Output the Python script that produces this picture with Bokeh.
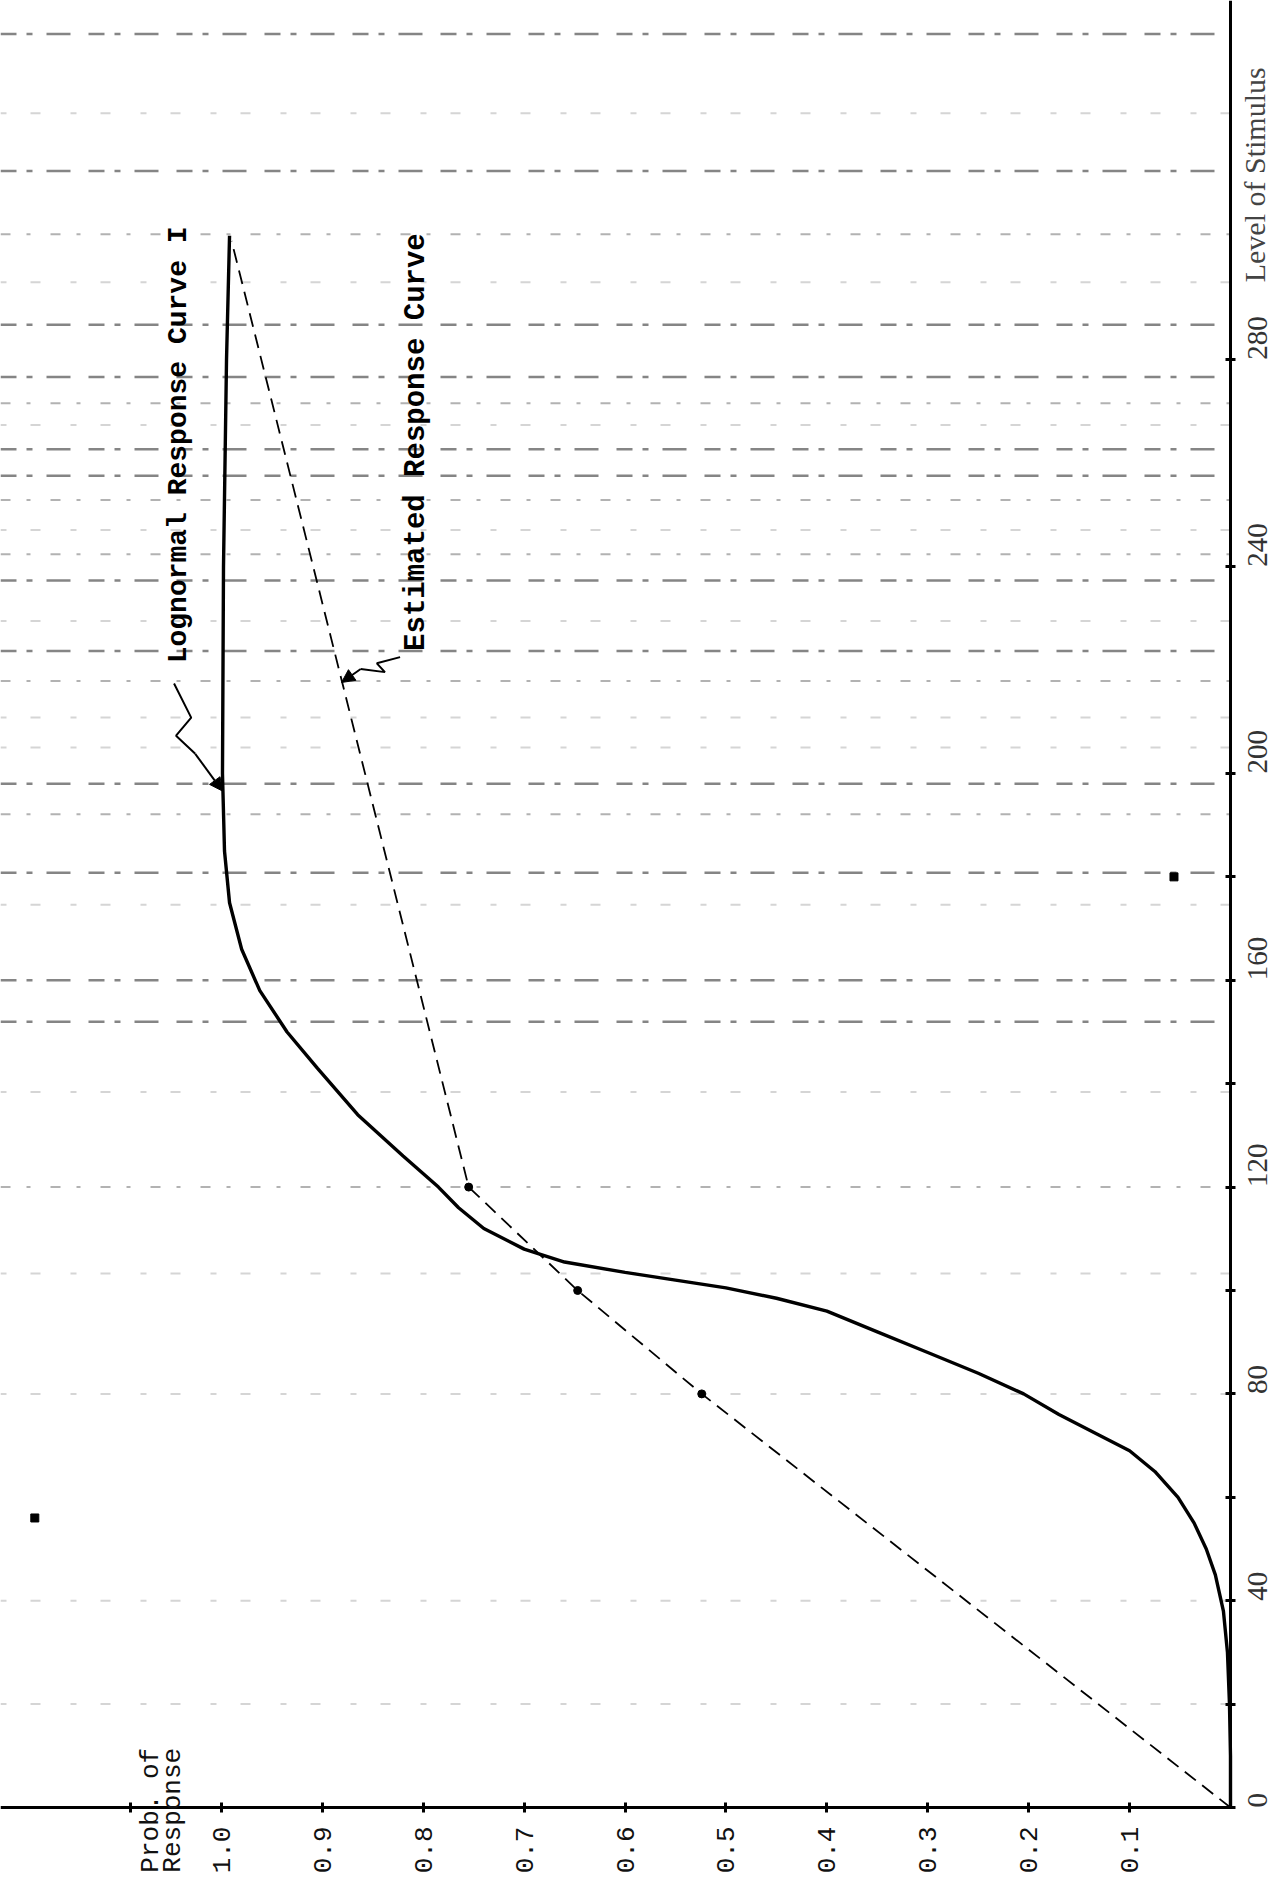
import math
from bokeh.plotting import figure
from bokeh.models import (Range1d, FixedTicker, Label, Arrow, NormalHead,
                          CustomJSTickFormatter)
from bokeh.embed import file_html
from bokeh.resources import INLINE

# ---------------- data ----------------
# Lognormal response curve I : stimulus level vs probability of response
lognormal_stimulus = [0, 10, 20, 30, 38, 45, 50, 55, 60, 65, 69, 72, 76, 80, 84,
                      88, 92, 96, 98.5, 100.5, 102, 103.5, 105.5, 108, 112, 116,
                      120, 126, 134, 143, 150, 158, 166, 175, 185, 200, 240, 280,
                      304]
lognormal_prob = [0.0, 0.0, 0.001, 0.003, 0.007, 0.015, 0.024, 0.036, 0.052,
                  0.075, 0.100, 0.130, 0.170, 0.205, 0.250, 0.300, 0.350, 0.400,
                  0.450, 0.500, 0.550, 0.600, 0.660, 0.700, 0.740, 0.765, 0.785,
                  0.820, 0.865, 0.905, 0.935, 0.962, 0.980, 0.992, 0.997, 0.999,
                  0.998, 0.995, 0.992]

# Estimated response curve (piecewise linear through the observed points)
estimated_stimulus = [0, 80, 100, 120, 303]
estimated_prob = [0.0, 0.524, 0.647, 0.755, 0.990]

# observed points
point_stimulus = [80, 100, 120]
point_prob = [0.524, 0.647, 0.755]

prob_ticks = [0.1, 0.2, 0.3, 0.4, 0.5, 0.6, 0.7, 0.8, 0.9, 1.0]
prob_minor_ticks = [1.09]
stim_ticks = [0, 40, 80, 120, 160, 200, 240, 280]
stim_minor_ticks = [20, 60, 100, 140, 180]

# horizontal scan streaks (stimulus level of each streak)
streak_strong = [343, 316.5, 286.8, 276.7, 262.7, 257.6, 237.3, 223.7, 198,
                 180.8, 160, 152]
streak_medium = [304.3, 271.6, 252.9, 242.4, 217.9, 192.1, 120]
streak_faint = [327.7, 295, 267.4, 247.1, 229.5, 210.8, 205, 174.6, 138.4,
                103.3, 80, 40, 20]

# scan specks (probability, stimulus)
speck_prob = [1.185, 0.056]
speck_stimulus = [56, 180]

# ---------------- figure ----------------
P_LEFT, P_RIGHT = 1.219, -0.0456
S_BOTTOM, S_TOP = -13.73, 349.5
p = figure(frame_width=1276, frame_height=1878,
           x_range=Range1d(P_LEFT, P_RIGHT), y_range=Range1d(S_BOTTOM, S_TOP),
           output_backend="svg", toolbar_location=None,
           x_axis_location="below", y_axis_location="right", min_border=0)
p.outline_line_color = None
p.grid.visible = False
p.background_fill_color = "white"
p.border_fill_color = "white"

# streaks
def streaks(levels, color, alpha, width, dash):
    n = len(levels)
    p.segment(x0=[P_LEFT] * n, x1=[0.0] * n, y0=levels, y1=levels,
              line_color=color, line_alpha=alpha, line_width=width,
              line_dash=dash)

streaks(streak_strong, "#333333", 0.6, 2.5, "16 10 6 14 24 18")
streaks(streak_medium, "#555555", 0.45, 2, "10 16 4 20")
streaks(streak_faint, "#888888", 0.35, 2, "6 24 10 30")

p.scatter(speck_prob, speck_stimulus, size=8, color="black", marker="square")

# curves
p.line(lognormal_prob, lognormal_stimulus, line_color="black", line_width=3.4)
p.line(estimated_prob, estimated_stimulus, line_color="black", line_width=1.8,
       line_dash="14 8")
p.scatter(point_prob, point_stimulus, size=8, color="black")

# axes (drawn through the corner at the origin)
xa = p.xaxis[0]
xa.fixed_location = 0
xa.bounds = (0, P_LEFT)
xa.ticker = FixedTicker(ticks=prob_ticks, minor_ticks=prob_minor_ticks)
xa.formatter = CustomJSTickFormatter(code="return tick.toFixed(1);")
xa.major_label_orientation = math.pi / 2
xa.major_label_text_font = "Liberation Mono"
xa.major_label_text_font_size = "26px"
xa.major_label_text_color = "#111111"
xa.major_label_standoff = 14
xa.axis_line_width = 3
xa.major_tick_in = 5
xa.major_tick_out = 5
xa.major_tick_line_width = 3
xa.minor_tick_in = 5
xa.minor_tick_out = 5
xa.minor_tick_line_width = 3

ya = p.yaxis[0]
ya.fixed_location = 0
ya.bounds = (0, S_TOP)
ya.ticker = FixedTicker(ticks=stim_ticks, minor_ticks=stim_minor_ticks)
ya.major_label_orientation = math.pi / 2
ya.major_label_text_font = "Liberation Serif"
ya.major_label_text_font_size = "29px"
ya.major_label_text_color = "#333333"
ya.major_label_standoff = 22
ya.axis_line_width = 3
ya.major_tick_in = 5
ya.major_tick_out = 5
ya.major_tick_line_width = 3
ya.minor_tick_in = 5
ya.minor_tick_out = 5
ya.minor_tick_line_width = 3

# axis titles (rotated, like the original)
for x, txt in [(1.070, "Prob. of"), (1.048, "Response")]:
    p.add_layout(Label(x=x, y=-12.6, text=txt, angle=math.pi / 2,
                       text_font="Liberation Mono", text_font_size="26px",
                       text_align="left", text_baseline="middle",
                       text_color="#111111"))
p.add_layout(Label(x=-0.024, y=295, text="Level of Stimulus",
                   angle=math.pi / 2, text_font="Liberation Serif",
                   text_font_size="30px", text_align="left",
                   text_baseline="middle", text_color="#444444"))

# curve annotations
p.add_layout(Label(x=1.043, y=221.3, text="Lognormal Response Curve I",
                   angle=math.pi / 2, text_font="Liberation Mono",
                   text_font_size="28px", text_font_style="bold",
                   text_align="left", text_baseline="middle",
                   text_color="black"))
p.add_layout(Label(x=0.807, y=223.7, text="Estimated Response Curve",
                   angle=math.pi / 2, text_font="Liberation Mono",
                   text_font_size="29px", text_font_style="bold",
                   text_align="left", text_baseline="middle",
                   text_color="black"))

# wavy leaders with arrow heads
p.line([1.047, 1.03, 1.045, 1.026], [217.4, 210.8, 207.3, 203.8],
       line_color="black", line_width=2)
p.add_layout(Arrow(end=NormalHead(size=13, fill_color="black"),
                   x_start=1.026, y_start=203.8, x_end=0.999, y_end=196.6,
                   line_width=2))
p.line([0.823, 0.846, 0.838, 0.862], [222.5, 221.3, 219.6, 220.2],
       line_color="black", line_width=2)
p.add_layout(Arrow(end=NormalHead(size=13, fill_color="black"),
                   x_start=0.862, y_start=220.2, x_end=0.881, y_end=217.6,
                   line_width=2))

open("out.html", "w").write(file_html(p, INLINE))
